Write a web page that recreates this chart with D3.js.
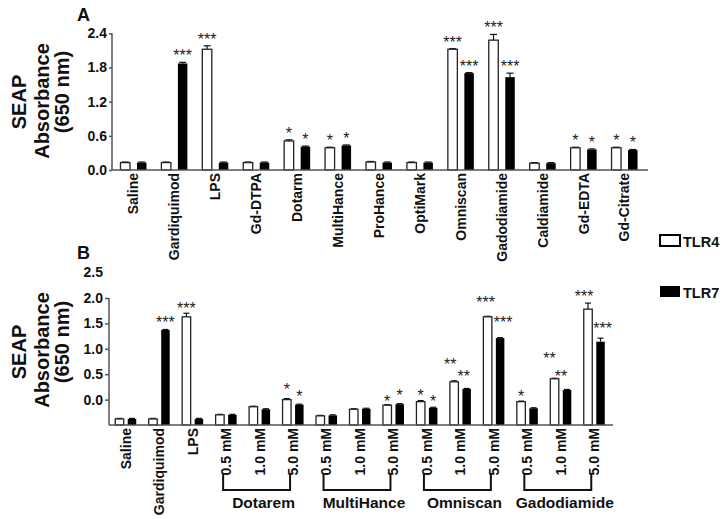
<!DOCTYPE html>
<html>
<head>
<meta charset="utf-8">
<script src="https://cdn.jsdelivr.net/npm/d3@7"></script>
<style>
  html, body { margin: 0; padding: 0; background: #fff; }
  svg { display: block; font-family: "Liberation Sans", Arial, sans-serif; }
</style>
</head>
<body>
<svg id="chart" width="724" height="519"></svg>
<script>
// ---------------- DATA: panel A ----------------
const catsA = ["Saline","Gardiquimod","LPS","Gd-DTPA","Dotarm","MultiHance","ProHance","OptiMark","Omniscan","Gadodiamide","Caldiamide","Gd-EDTA","Gd-Citrate"];
const tlr4A = [0.13, 0.13, 2.12, 0.13, 0.51, 0.39, 0.14, 0.13, 2.12, 2.28, 0.12, 0.39, 0.39];
const tlr7A = [0.13, 1.87, 0.13, 0.13, 0.41, 0.43, 0.13, 0.13, 1.70, 1.63, 0.12, 0.36, 0.35];
const err4A = [0.01, 0.01, 0.06, 0.01, 0.02, 0.01, 0.01, 0.01, 0.01, 0.10, 0.01, 0.01, 0.01];
const err7A = [0.01, 0.02, 0.01, 0.01, 0.01, 0.01, 0.01, 0.01, 0.01, 0.07, 0.01, 0.01, 0.01];
const sig4A = ["", "", "***", "", "*", "*", "", "", "***", "***", "", "*", "*"];
const sig7A = ["", "***", "", "", "*", "*", "", "", "***", "***", "", "*", "*"];
const yTicksA = [0, 0.6, 1.2, 1.8, 2.4];

// ---------------- DATA: panel B ----------------
const controlsB = ["Saline","Gardiquimod","LPS"];
const agentsB = ["Dotarem","MultiHance","Omniscan","Gadodiamide"];
const concB = ["0.5 mM","1.0 mM","5.0 mM"];
const tlr4B = [0.12, 0.12, 2.13,  0.20, 0.36, 0.50,  0.18, 0.31, 0.39,  0.46, 0.85, 2.13,  0.46, 0.91, 2.28];
const tlr7B = [0.12, 1.87, 0.12,  0.20, 0.31, 0.40,  0.19, 0.32, 0.41,  0.34, 0.71, 1.71,  0.33, 0.69, 1.64];
const err4B = [0.01, 0.01, 0.07,  0.01, 0.01, 0.02,  0.01, 0.01, 0.01,  0.02, 0.02, 0.01,  0.01, 0.01, 0.12];
const err7B = [0.01, 0.01, 0.01,  0.01, 0.01, 0.01,  0.01, 0.01, 0.01,  0.01, 0.01, 0.01,  0.01, 0.01, 0.07];
const sig4B = ["", "", "***",  "", "", "*",  "", "", "*",  "*", "**", "***",  "*", "**", "***"];
const sig7B = ["", "***", "",  "", "", "*",  "", "", "*",  "*", "**", "***",  "", "**", "***"];
// tick values on the axis and the labels printed beside them (as in the figure)
const yTickValsB = [0.5, 1.0, 1.5, 2.0, 2.5];
const yTickLabsB = ["0.0", "0.5", "1.0", "1.5", "2.0"];
const yExtraTickB = {value: 3.0, label: "2.5"};

const seriesNames = ["TLR4", "TLR7"];

// ---------------- LAYOUT (not data) ----------------
// star label nudges [dx, dy] in px for panel B
const nudge4B = [[0,0],[0,0],[0,2],[0,0],[0,0],[0,-3],[0,0],[0,0],[0,3],[0,1],[-4,-10],[-2,-7],[0,2],[-5,-13],[-4,0]];
const nudge7B = [[0,0],[0,0],[0,0],[0,0],[0,0],[0,-1],[0,0],[0,0],[0,-2],[0,1],[-3,-5],[3,-9],[0,0],[-6,-6],[2,-3]];

const catsB = controlsB.concat(...agentsB.map(() => concB));
const keysB = catsB.map((c, i) => i);

const svg = d3.select("#chart");
const FONT = "'Liberation Sans', Arial, sans-serif";

function panel(opt) {
  const g = svg.append("g");
  const x = d3.scaleBand().domain(opt.keys).range(opt.xRange).paddingInner(0).paddingOuter(0);
  const y = d3.scaleLinear().domain(opt.yDomain).range(opt.yRange);
  const bw = x.bandwidth();
  const base = y(0);

  const data = opt.keys.map((k, i) => ({k, i, v4: opt.v4[i], v7: opt.v7[i], e4: opt.e4[i], e7: opt.e7[i], s4: opt.s4[i], s7: opt.s7[i]}));

  // error bars (above only)
  function errBar(cx, v, e) {
    const yt = y(v + e);
    g.append("line").attr("x1", cx).attr("x2", cx).attr("y1", y(v)).attr("y2", yt)
      .attr("stroke", "#111").attr("stroke-width", 1.2);
    g.append("line").attr("x1", cx - opt.cap).attr("x2", cx + opt.cap).attr("y1", yt).attr("y2", yt)
      .attr("stroke", "#111").attr("stroke-width", 1.2);
  }

  data.forEach(d => {
    const c = x(d.k) + bw / 2;
    const xw = c - opt.halfGap - opt.barW;
    const xb = c + opt.halfGap;
    errBar(xw + opt.barW / 2, d.v4, d.e4);
    errBar(xb + opt.barW / 2, d.v7, d.e7);
    g.append("rect").attr("x", xw).attr("y", y(d.v4)).attr("width", opt.barW).attr("height", base - y(d.v4))
      .attr("fill", "#fff").attr("stroke", "#222").attr("stroke-width", 1.3);
    g.append("rect").attr("x", xb).attr("y", y(d.v7)).attr("width", opt.barW).attr("height", base - y(d.v7))
      .attr("fill", "#000");
    const n4 = opt.n4 ? opt.n4[d.i] : [0,0];
    const n7 = opt.n7 ? opt.n7[d.i] : [0,0];
    if (d.s4) g.append("text").attr("x", xw + opt.barW / 2 + n4[0]).attr("y", y(d.v4 + d.e4) - 1 + n4[1])
      .attr("text-anchor", "middle").attr("font-size", 16).attr("font-family", FONT).attr("fill", "#222").text(d.s4);
    if (d.s7) g.append("text").attr("x", xb + opt.barW / 2 + n7[0]).attr("y", y(d.v7 + d.e7) - 1 + n7[1])
      .attr("text-anchor", "middle").attr("font-size", 16).attr("font-family", FONT).attr("fill", "#222").text(d.s7);
  });

  // y axis
  const yAxis = d3.axisLeft(y).tickValues(opt.yTicks).tickSize(opt.tickSize).tickPadding(2)
    .tickFormat((d, i) => opt.yLabels ? opt.yLabels[i] : d3.format(".1f")(d));
  const ya = g.append("g").attr("transform", `translate(${opt.axisX},0)`).call(yAxis);
  ya.select(".domain").attr("d", `M0,${y(opt.yDomain[1])}V${base}`).attr("stroke", "#555").attr("stroke-width", 1.5);
  ya.selectAll(".tick line").attr("stroke", "#555").attr("stroke-width", 1.5);
  ya.selectAll(".tick text").attr("font-size", 14).attr("font-weight", "bold").attr("font-family", FONT).attr("fill", "#111");

  // x axis line
  g.append("line").attr("x1", opt.axisX).attr("x2", opt.xAxisEnd).attr("y1", base).attr("y2", base)
    .attr("stroke", "#555").attr("stroke-width", 1.5);

  // category labels
  opt.keys.forEach((k, i) => {
    const c = x(k) + bw / 2;
    g.append("text").attr("transform", `translate(${c},${base + opt.labelGap}) rotate(-90)`)
      .attr("text-anchor", "end").attr("dy", "0.35em")
      .attr("font-size", 14).attr("font-weight", "bold").attr("font-family", FONT).attr("fill", "#111")
      .text(opt.labels[i]);
  });

  // y title (three lines)
  opt.title.forEach(t => {
    g.append("text").attr("transform", `translate(${t.x},${t.y}) rotate(-90)`)
      .attr("text-anchor", "middle").attr("font-size", 20).attr("font-weight", "bold")
      .attr("font-family", FONT).attr("fill", "#111").text(t.text);
  });
  g.append("text").attr("x", opt.letter.x).attr("y", opt.letter.y).attr("font-size", 18)
    .attr("font-weight", "bold").attr("font-family", FONT).attr("fill", "#111").text(opt.letter.text);

  return {g, x, y, bw};
}

// Panel A
panel({
  keys: catsA, labels: catsA, v4: tlr4A, v7: tlr7A, e4: err4A, e7: err7A, s4: sig4A, s7: sig7A,
  xRange: [113, 645], yDomain: [0, 2.4], yRange: [170, 33.3], yTicks: yTicksA,
  axisX: 112, xAxisEnd: 648, barW: 9.5, halfGap: 3.5, cap: 3.5, tickSize: 3, labelGap: 3,
  title: [{text: "SEAP", x: 26, y: 102}, {text: "Absorbance", x: 49, y: 101}, {text: "(650 nm)", x: 69, y: 92}],
  letter: {text: "A", x: 77, y: 21}
});

// Panel B
const pB = panel({
  keys: keysB, labels: catsB, v4: tlr4B, v7: tlr7B, e4: err4B, e7: err7B, s4: sig4B, s7: sig7B,
  n4: nudge4B, n7: nudge7B,
  xRange: [109, 611], yDomain: [0, 2.5], yRange: [425, 298], yTicks: yTickValsB, yLabels: yTickLabsB,
  axisX: 109, xAxisEnd: 613, barW: 8.5, halfGap: 2, cap: 3, tickSize: 4, labelGap: 3,
  title: [{text: "SEAP", x: 26, y: 352}, {text: "Absorbance", x: 49, y: 350}, {text: "(650 nm)", x: 69, y: 342}],
  letter: {text: "B", x: 77, y: 259}
});
// extra top label in panel B (printed without a tick)
pB.g.append("text").attr("x", 109 - 6).attr("y", pB.y(yExtraTickB.value)).attr("dy", "0.32em")
  .attr("text-anchor", "end").attr("font-size", 14).attr("font-weight", "bold").attr("font-family", FONT)
  .attr("fill", "#111").text(yExtraTickB.label);

// brackets + agent names
agentsB.forEach((a, j) => {
  const i0 = controlsB.length + j * concB.length;
  const i1 = i0 + concB.length - 1;
  const im = i0 + 1;
  const xl = pB.x(i0) + pB.bw / 2 - 3;
  const xr = pB.x(i1) + pB.bw / 2 - 3;
  const xm = pB.x(im) + pB.bw / 2 + 4;
  pB.g.append("path").attr("d", `M${xl},474V490H${xr}V474`).attr("fill", "none")
    .attr("stroke", "#111").attr("stroke-width", 2);
  pB.g.append("text").attr("x", xm).attr("y", 508).attr("text-anchor", "middle")
    .attr("font-size", 15.5).attr("font-weight", "bold").attr("font-family", FONT).attr("fill", "#111").text(a);
});

// legend
const leg = svg.append("g");
seriesNames.forEach((s, i) => {
  const yy = 235 + i * 51;
  leg.append("rect").attr("x", 660).attr("y", yy).attr("width", 20).attr("height", 11)
    .attr("fill", i === 0 ? "#fff" : "#000").attr("stroke", "#000").attr("stroke-width", i === 0 ? 2 : 0);
  leg.append("text").attr("x", 683).attr("y", yy + 11.5).attr("font-size", 14.5).attr("font-weight", "bold")
    .attr("font-family", FONT).attr("fill", "#111").text(s);
});
</script>
</body>
</html>
